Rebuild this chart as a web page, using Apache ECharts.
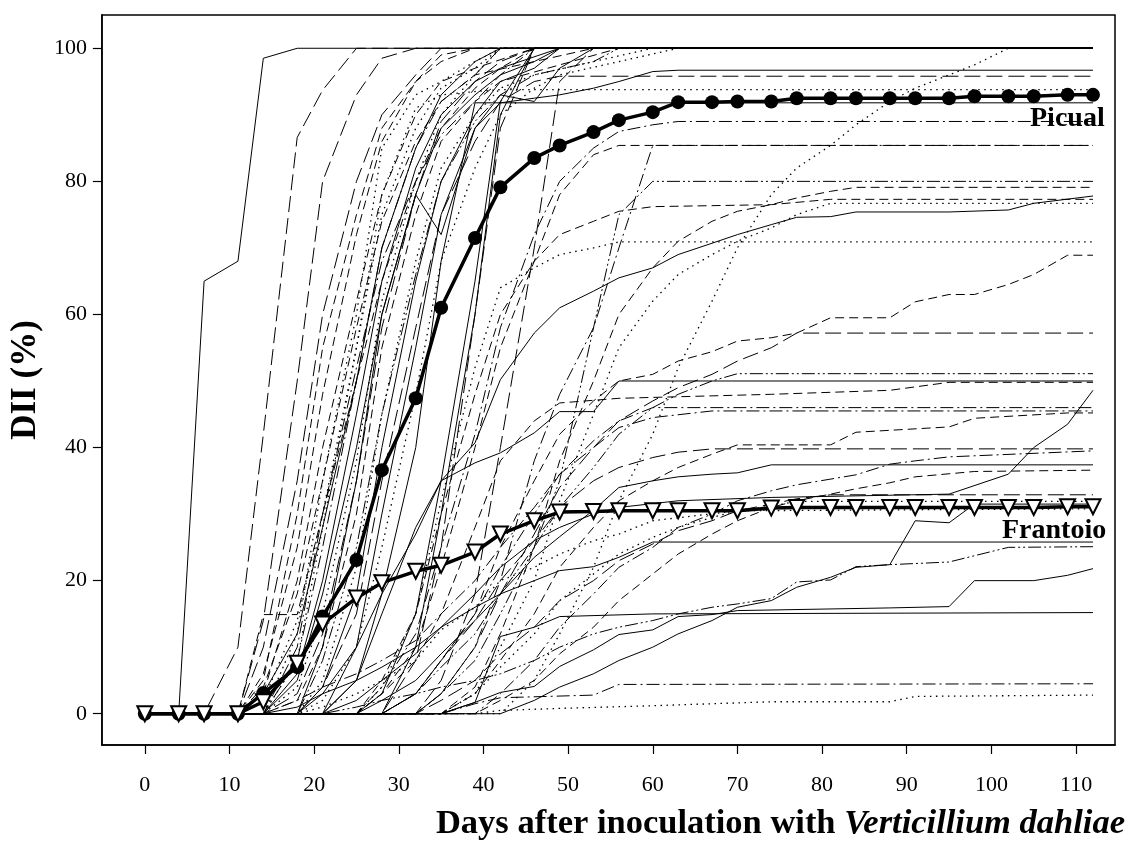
<!DOCTYPE html>
<html><head><meta charset="utf-8">
<script src="https://cdn.jsdelivr.net/npm/echarts@6/dist/echarts.min.js"></script>
<style>html,body{margin:0;padding:0;background:#fff}#c{width:1128px;height:843px}</style>
</head><body><div id="c"></div>
<script>
const days = [0,4,7,11,14,18,21,25,28,32,35,39,42,46,49,53,56,60,63,67,70,74,77,81,84,88,91,95,98,102,105,109,112];
const picual = [0,0,0,0,3.1,7.0,14.6,23.1,36.6,47.4,61,71.5,79.1,83.5,85.4,87.4,89.2,90.4,91.9,91.9,92.0,92.0,92.5,92.5,92.5,92.5,92.5,92.5,92.8,92.8,92.8,93.0,93.0];
const frantoio = [0,0,0,0,1.8,7.6,13.5,17.4,19.7,21.4,22.3,24.3,27,29,30.3,30.4,30.5,30.5,30.5,30.5,30.5,30.9,31,31,31,31,31,31,31,31,31,31.1,31.1];
const xTicks = [0,10,20,30,40,50,60,70,80,90,100,110];
const yTicks = [0,20,40,60,80,100];

// other cultivars: dash style code per line
const bgStyles = ['S','LD','LD','D','D','DOT','DD','D','S','D','DOT','S','LD','S','LD','DOT','D','DOT','S','DD','LD','DOT','D','S','DDD','DOT','LD','S','S',
  'S','LD','DOT','S','DD','D','DD','DDD','D','D','DOT','S','DOT','D','LD',
  'DDD','S','D','DD','D','S','LD','DD','S','D','DOT','LD',
  'S','S','S','DDD','S','DD','DOT','DD','DOT'];
// other cultivars: [day, DII] points
const bgLines = [
 [[0,0],[4,0],[7,65],[11,68],[14,98.5],[18,100],[112,100]],
 [[0,0],[7,0],[11,10],[14,42],[18,86.6],[21,93.7],[25,100],[112,100]],
 [[0,0],[11,0],[14,14],[18,50],[21,80],[25,93],[28,98.5],[32,100],[112,100]],
 [[0,0],[11,0],[14,14.9],[18,14.9],[21,30],[25,50],[28,65],[32,80],[35,88],[39,94],[42,97],[46,100],[112,100]],
 [[0,0],[11,0],[14,5],[18,30],[21,55],[25,75],[28,88],[32,95],[35,98],[39,100],[112,100]],
 [[0,0],[14,0],[18,12],[21,35],[25,60],[28,85],[32,93],[35,95],[39,98],[42,100],[112,100]],
 [[0,0],[14,0],[18,8],[21,25],[25,50],[28,70],[32,85],[35,92],[39,96],[42,100],[112,100]],
 [[0,0],[11,0],[14,3],[18,20],[21,40],[25,62],[28,78],[32,90],[35,95],[39,97],[46,100],[112,100]],
 [[0,0],[14,0],[18,5],[21,18],[25,40],[28,60],[32,78],[35,88],[39,93],[42,96],[46,98],[49,100],[112,100]],
 [[0,0],[14,0],[18,2],[21,10],[25,30],[28,55],[32,75],[35,86],[39,92],[42,95],[49,97.5],[56,100],[112,100]],
 [[0,0],[18,0],[21,5],[25,22],[28,45],[32,68],[35,82],[39,90],[42,94],[46,96],[53,98],[60,100],[112,100]],
 [[0,0],[25,0],[28,3],[32,15],[35,35],[39,65],[42,92],[46,100],[112,100]],
 [[0,0],[28,0],[32,8],[35,25],[39,60],[42,88],[46,100],[112,100]],
 [[0,0],[28,0],[32,10],[35,30],[39,60],[42,90],[46,100],[112,100]],
 [[0,0],[32,0],[35,5],[39,18],[42,40],[46,70],[49,95],[53,100],[112,100]],
 [[0,0],[42,0],[46,5],[49,12],[53,22],[56,32],[60,42],[63,52],[67,62],[70,70],[74,78],[77,82],[81,85.4],[84,88.5],[88,92],[91,94],[95,96],[98,97.5],[102,100],[112,100]],
 [[0,0],[11,0],[14,6],[18,25],[21,48],[25,72],[28,86],[32,95],[35,99],[39,100],[112,100]],
 [[0,0],[11,0],[14,2],[18,14],[21,30],[25,55],[28,75],[32,88],[35,94],[39,97],[42,100],[112,100]],
 [[0,0],[14,0],[18,6],[21,20],[25,45],[28,65],[32,82],[35,90],[39,95],[42,97],[49,100],[112,100]],
 [[0,0],[14,0],[18,10],[21,30],[25,52],[28,68],[32,80],[35,87],[39,92],[42,96],[46,100],[112,100]],
 [[0,0],[14,0],[18,3],[21,12],[25,35],[28,58],[32,78],[35,89],[39,95],[42,98],[46,100],[112,100]],
 [[0,0],[14,0],[18,4],[21,15],[25,38],[28,62],[32,80],[35,90],[39,96],[42,100],[112,100]],
 [[0,0],[11,0],[14,4],[18,18],[21,35],[25,58],[28,74],[32,86],[35,92],[39,96],[46,98],[53,100],[112,100]],
 [[0,0],[18,0],[21,4],[25,18],[28,40],[32,65],[35,80],[39,90],[42,95],[46,97],[49,100],[112,100]],
 [[0,0],[18,0],[21,8],[25,25],[28,45],[32,66],[35,80],[39,89],[42,93],[46,96],[53,98],[56,100],[112,100]],
 [[0,0],[18,0],[21,2],[25,10],[28,25],[32,48],[35,68],[39,82],[42,90],[46,94],[49,96],[56,98],[63,100],[112,100]],
 [[0,0],[11,0],[14,10],[18,35],[21,60],[25,80],[28,90],[32,96],[35,100],[112,100]],
 [[0,0],[11,0],[14,3],[18,12],[21,28],[25,50],[28,70],[32,85],[35,93],[39,98],[42,100],[112,100]],
 [[0,0],[18,0],[21,10],[25,35],[28,60],[32,78],[35,72],[39,88],[42,93],[46,92],[49,97],[53,100],[112,100]],
 [[0,0],[21,0],[25,10],[28,30],[32,55],[35,75],[39,88],[42,91.8],[46,92.5],[49,93],[53,94],[56,95],[60,96.5],[63,96.7],[112,96.7]],
 [[0,0],[18,0],[21,4],[25,15],[28,35],[32,58],[35,75],[39,86],[42,92],[46,95],[49,95.8],[112,95.8]],
 [[0,0],[14,0],[18,8],[21,28],[25,55],[28,78],[32,91],[35,93],[39,93.5],[42,93.8],[112,93.8]],
 [[0,0],[21,0],[25,5],[28,18],[32,40],[35,68],[39,91.8],[112,91.8]],
 [[0,0],[25,0],[28,4],[32,12],[35,25],[39,42],[42,58],[46,72],[49,80],[53,85],[56,87.5],[60,88.5],[63,89],[112,89]],
 [[0,0],[25,0],[28,3],[32,10],[35,22],[39,40],[42,55],[46,68],[49,78],[53,84],[56,85.4],[112,85.4]],
 [[0,0],[32,0],[35,3],[39,10],[42,20],[46,38],[49,48],[53,58],[56,70],[60,85.4],[112,85.4]],
 [[0,0],[32,0],[35,3],[39,8],[42,15],[46,25],[49,35],[53,58],[56,75],[60,80],[112,80]],
 [[0,0],[35,0],[39,4],[42,12],[46,25],[49,38],[53,50],[56,60],[60,67],[63,71],[67,74],[70,75.5],[74,76.5],[77,77.5],[81,78.5],[84,79.1],[112,79.1]],
 [[0,0],[25,0],[28,5],[32,15],[35,30],[39,48],[42,60],[46,68],[49,72],[53,74],[56,75.5],[60,76.2],[74,76.5],[81,77.3],[112,77.3]],
 [[0,0],[35,0],[39,3],[42,10],[46,20],[49,32],[53,45],[56,55],[60,62],[63,66],[67,69],[70,71],[74,73],[77,75],[81,76.7],[112,76.7]],
 [[0,0],[18,0],[21,3],[25,10],[28,18],[32,27],[35,35],[39,40.7],[42,50.2],[46,57.2],[49,61],[53,63.5],[56,65.5],[60,67],[63,69],[67,70.7],[70,72],[74,73.5],[77,74.6],[81,74.7],[84,75.4],[95,75.4],[102,75.7],[105,76.7],[112,77.8]],
 [[0,0],[25,0],[28,4],[32,15],[35,32],[39,52],[42,64],[46,67],[49,69],[53,70],[56,70.9],[112,70.9]],
 [[0,0],[28,0],[32,3],[35,8],[39,15],[42,25],[46,35],[49,42],[53,47],[56,50],[60,51],[63,53],[67,54.4],[70,56],[74,56.5],[77,57.2],[81,59.5],[88,59.5],[91,61.9],[95,63],[98,63],[102,64.5],[105,66],[109,68.9],[112,68.9]],
 [[0,0],[32,0],[35,3],[39,10],[42,18],[46,27],[49,34],[53,40],[56,44],[60,47],[63,49],[67,51],[70,53],[74,55],[77,57.2],[112,57.2]],
 [[0,0],[28,0],[32,3],[35,7],[39,12],[42,18],[46,25],[49,31],[53,37],[56,42],[60,46],[63,48],[67,50],[70,51.1],[112,51.1]],
 [[0,0],[21,0],[25,5],[28,15],[32,28],[35,35],[39,37.7],[42,39.2],[46,42.2],[49,45.4],[53,45.4],[56,50],[112,50]],
 [[0,0],[25,0],[28,3],[32,8],[35,15],[39,28],[42,38],[46,44],[49,46.7],[53,47.1],[56,47.4],[74,48],[88,48.6],[95,49.8],[112,49.8]],
 [[0,0],[28,0],[32,3],[35,8],[39,15],[42,22],[46,30],[49,36],[53,41],[56,44],[60,46],[112,46]],
 [[0,0],[35,0],[39,3],[42,8],[46,15],[49,22],[53,28],[56,32],[60,35],[63,37],[67,39],[70,40.4],[81,40.4],[84,42.3],[95,43.1],[98,44.4],[109,45.2],[112,45.2]],
 [[0,0],[21,0],[25,2],[28,5],[32,9],[35,13],[39,18],[42,22],[46,26],[49,28],[53,30],[56,31],[63,32],[74,32.5],[95,33],[102,36],[105,40],[109,43.5],[112,48.6]],
 [[0,0],[28,0],[32,3],[35,8],[39,14],[42,20],[46,26],[49,31],[53,35],[56,37],[60,38.5],[63,39.3],[67,39.8],[112,39.8]],
 [[0,0],[39,0],[42,3],[46,8],[49,13],[53,18],[56,22],[60,25],[63,28],[67,30],[70,32],[74,33.5],[77,34.4],[84,35.9],[88,37.5],[91,38],[95,38.6],[112,39.5]],
 [[0,0],[25,0],[28,2],[32,5],[35,9],[39,14],[42,18],[46,23.5],[49,26.6],[53,30.6],[56,34],[60,35],[63,35.6],[67,36],[70,36.2],[74,37.4],[112,37.4]],
 [[0,0],[39,0],[42,2],[46,5],[49,9],[53,13],[56,17],[60,21],[63,24],[67,27],[70,29],[74,31],[77,32],[81,33],[84,33.8],[88,34.7],[91,35.6],[98,36.4],[112,36.6]],
 [[0,0],[35,0],[39,3],[42,7],[46,12],[49,17],[53,21],[56,24],[60,26.5],[63,28],[67,29.5],[70,30.5],[74,31.2],[77,31.9],[112,31.9]],
 [[0,0],[32,0],[35,2],[39,5],[42,9],[46,13],[49,17],[53,20],[56,23],[60,25.5],[63,27.5],[67,29],[70,30.5],[74,31.5],[77,32.3],[81,32.9],[112,32.9]],
 [[0,0],[14,0],[18,1],[21,3],[25,5],[28,7],[32,10],[35,13],[39,16],[42,18],[46,20],[49,21.5],[53,22.1],[56,23.5],[60,25.8],[112,25.8]],
 [[0,0],[35,0],[39,1.7],[42,3.2],[46,4.1],[49,7.1],[53,9.6],[56,11.9],[60,12.6],[63,14.6],[67,14.9],[70,15.5],[88,15.9],[95,16.1],[98,20],[105,20],[109,20.8],[112,21.8]],
 [[0,0],[35,0],[39,1.7],[42,11.6],[46,13],[49,14.6],[60,15],[112,15.2]],
 [[0,0],[21,0],[25,1],[28,2],[32,3],[35,4],[39,5],[42,6],[46,8],[49,10],[53,12],[56,13],[60,14],[63,15],[67,16],[70,16.5],[74,17.3],[77,19.8],[81,20.1],[84,22.1],[88,22.4],[95,22.8],[102,25],[112,25.1]],
 [[0,0],[42,0],[46,2],[49,4],[53,6],[56,8],[60,10],[63,12],[67,14],[70,16],[74,17],[77,19],[81,20.5],[84,22],[88,22.4],[91,29],[95,28.7],[98,31.5],[112,31.5]],
 [[0,0],[35,0],[39,1.5],[42,2.4],[53,2.8],[56,4.4],[112,4.5]],
 [[0,0],[39,0],[42,0.5],[49,0.8],[60,1.2],[74,1.8],[88,1.8],[91,2.6],[112,2.8]],
 [[0,0],[14,0],[18,2],[21,4],[25,6],[28,8],[32,11],[35,15],[39,20],[42,25],[46,31],[49,36],[53,40],[56,43],[60,44.5],[67,45.5],[112,45.5]],
 [[0,0],[18,0],[21,1],[25,3],[28,5],[32,8],[35,12.6],[39,16],[42,20],[46,22],[49,24],[53,26],[56,27],[60,29],[70,30.5],[112,30.8]]
];

const dashMap = {S:'solid', D:[9,5], LD:[16,6], DD:[13,4,2,4], DDD:[13,3,2,3,2,3], DOT:[1.5,4.5]};
const FONT = 'Liberation Serif';

const series = bgLines.map((pts, i) => ({
  type: 'line', data: pts, symbol: 'none', silent: true, z: 2,
  lineStyle: {color: '#000', width: bgStyles[i] === 'DOT' ? 1.3 : 1, type: dashMap[bgStyles[i]] || 'solid'}
}));
series.push({
  name: 'Picual', type: 'line', z: 5,
  data: days.map((d, i) => [d, picual[i]]),
  symbol: 'circle', symbolSize: 14,
  itemStyle: {color: '#000'},
  lineStyle: {color: '#000', width: 3.5}
});
series.push({
  name: 'Frantoio', type: 'line', z: 6,
  data: days.map((d, i) => [d, frantoio[i]]),
  symbol: 'triangle', symbolSize: 15, symbolRotate: 180,
  itemStyle: {color: '#fff', borderColor: '#000', borderWidth: 2},
  lineStyle: {color: '#000', width: 3.5}
});

const chart = echarts.init(document.getElementById('c'), null, {renderer: 'canvas'});
chart.setOption({
  animation: false,
  backgroundColor: '#fff',
  grid: {left: 100, right: 13, top: 15, bottom: 98, show: true, borderColor: '#000', borderWidth: 1.5, containLabel: false},
  xAxis: {
    type: 'value', min: -5.07, max: 114.6,
    axisLine: {show: true, onZero: false, lineStyle: {color: '#000', width: 1.5}},
    axisTick: {show: true, inside: false, length: 9, customValues: xTicks, lineStyle: {color: '#000', width: 1.2}},
    axisLabel: {customValues: xTicks, margin: 29, color: '#000', fontFamily: FONT, fontSize: 22},
    splitLine: {show: false}
  },
  yAxis: {
    type: 'value', min: -4.7, max: 105,
    name: 'DII (%)', nameLocation: 'middle', nameGap: 52,
    nameTextStyle: {color: '#000', fontFamily: FONT, fontSize: 35, fontWeight: 'bold'},
    axisLine: {show: true, onZero: false, lineStyle: {color: '#000', width: 1.5}},
    axisTick: {show: true, inside: false, length: 9, customValues: yTicks, lineStyle: {color: '#000', width: 1.2}},
    axisLabel: {customValues: yTicks, margin: 15, color: '#000', fontFamily: FONT, fontSize: 22},
    splitLine: {show: false}
  },
  graphic: [
    {type: 'text', right: 3, top: 807, z: 10, style: {
      text: '{a|Days after inoculation with }{b|Verticillium dahliae}',
      rich: {
        a: {fontFamily: FONT, fontSize: 34.5, fontWeight: 'bold', fill: '#000'},
        b: {fontFamily: FONT, fontSize: 34.5, fontWeight: 'bold', fontStyle: 'italic', fill: '#000'}
      }
    }},
    {type: 'text', left: 1030, top: 105, z: 10, style: {text: 'Picual', fontFamily: FONT, fontSize: 28, fontWeight: 'bold', fill: '#000'}},
    {type: 'text', left: 1002, top: 517, z: 10, style: {text: 'Frantoio', fontFamily: FONT, fontSize: 28, fontWeight: 'bold', fill: '#000'}}
  ],
  series: series
});
</script>
</body></html>
